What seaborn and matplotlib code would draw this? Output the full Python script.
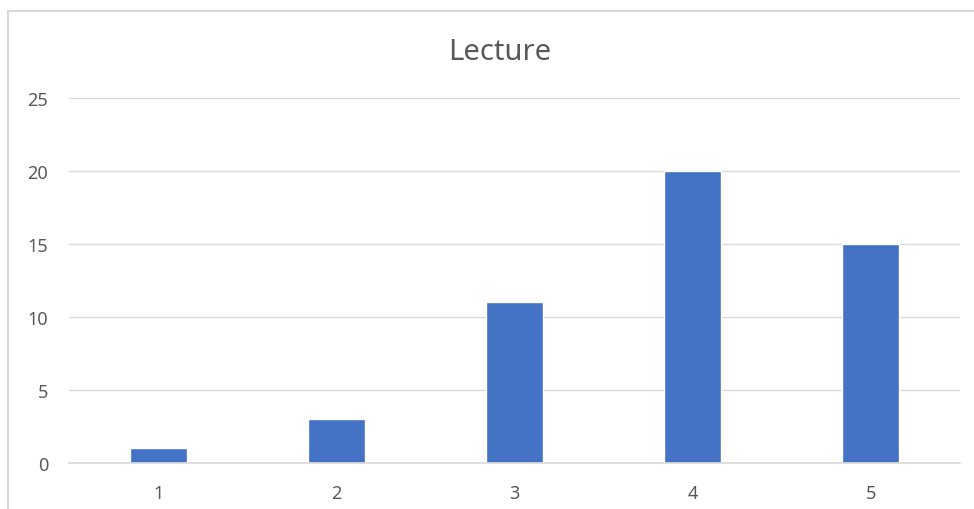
import matplotlib
matplotlib.use("Agg")
import matplotlib.pyplot as plt
from matplotlib.patches import Rectangle
import seaborn as sns
import pandas as pd

# Lecture ratings: count of responses per score
categories = ["1", "2", "3", "4", "5"]
counts = [1, 3, 11, 20, 15]
y_ticks = [0, 5, 10, 15, 20, 25]

df = pd.DataFrame({"score": categories, "count": counts})

sns.set_theme(style="white")
plt.rcParams["font.family"] = ["Noto Sans", "DejaVu Sans"]

fig = plt.figure(figsize=(9.74, 5.10), dpi=100)
ax = fig.add_axes([0.0708, 0.0902, 0.9148, 0.7157])

sns.barplot(data=df, x="score", y="count", color="#4472C4", saturation=1,
            width=0.32, ax=ax, zorder=3)

ax.set_ylim(0, 25)
ax.set_yticks(y_ticks)
ax.set_xlim(-0.5, len(categories) - 0.5)
ax.yaxis.grid(True, color="#D9D9D9", linewidth=1.0, zorder=0)
ax.xaxis.grid(False)
for side in ["top", "right", "left"]:
    ax.spines[side].set_visible(False)
ax.spines["bottom"].set_color("#D9D9D9")
ax.spines["bottom"].set_linewidth(1.2)
ax.spines["bottom"].set_zorder(4)
ax.tick_params(axis="both", length=0, labelsize=13, labelcolor="#595959")
ax.tick_params(axis="y", pad=15)
ax.tick_params(axis="x", pad=15)
ax.set_xlabel("")
ax.set_ylabel("")

fig.text(0.5135, 0.897, "Lecture", ha="center", va="center",
         fontsize=21, color="#595959")

# chart frame
fig.patches.append(Rectangle((8 / 974, -0.1), 1.2, 1 - 12 / 510 + 0.1,
                             transform=fig.transFigure, fill=False,
                             edgecolor="#D9D9D9", linewidth=1.5))

fig.savefig("out.png", dpi=100)
